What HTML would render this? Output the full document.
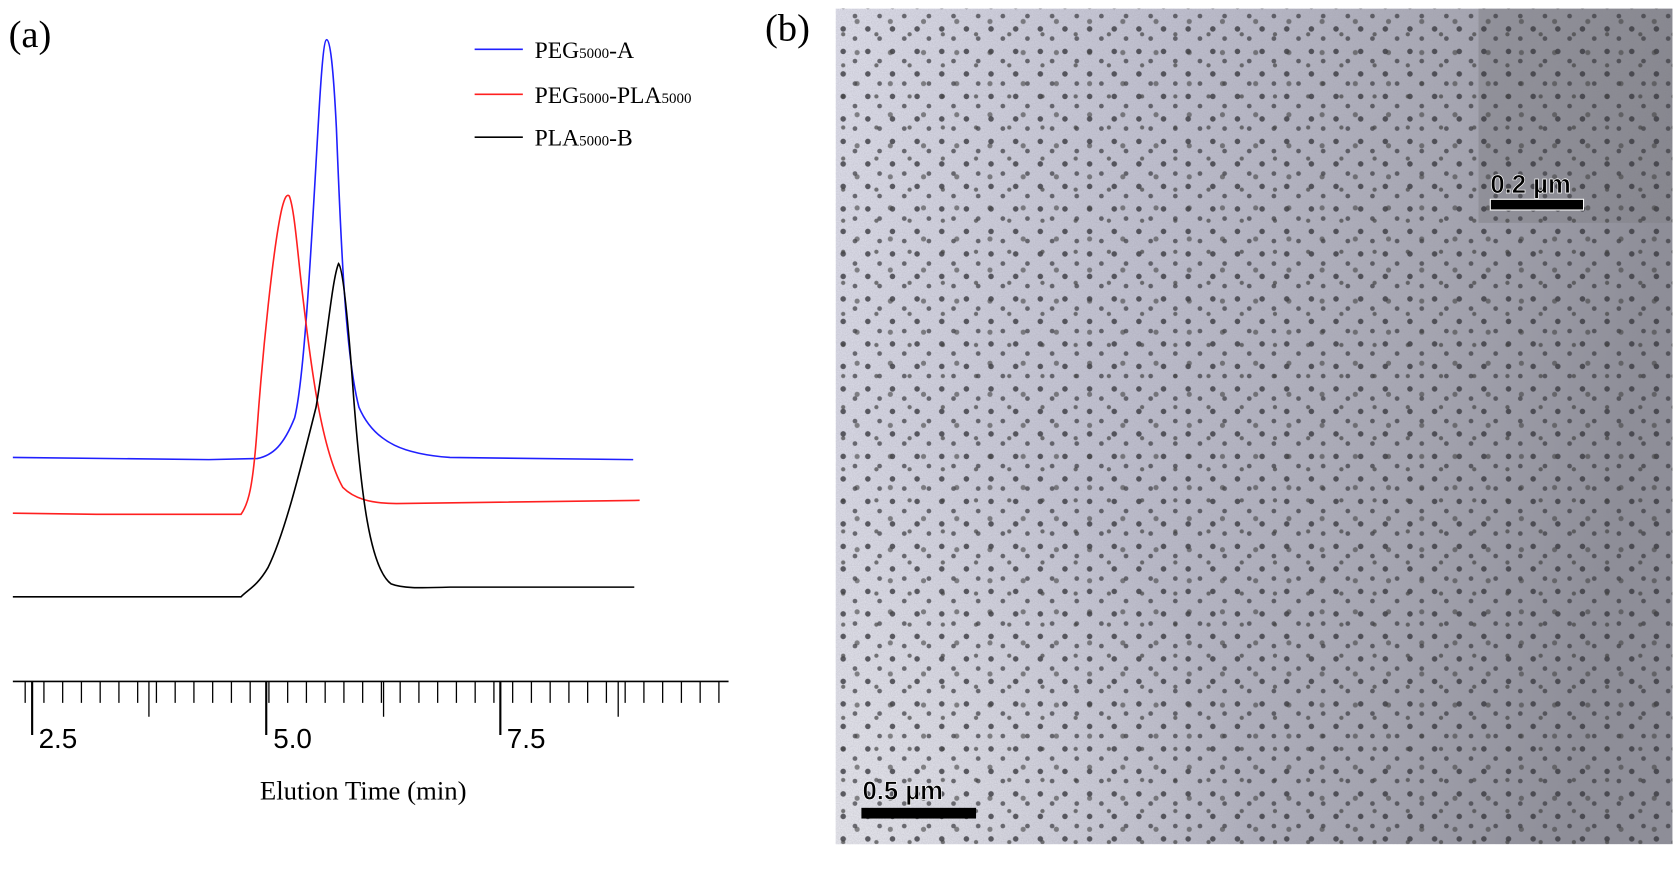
<!DOCTYPE html>
<html><head><meta charset="utf-8"><style>
html,body{margin:0;padding:0;background:#fff;overflow:hidden;}
svg text{font-family:"Liberation Serif",serif;}
</style></head><body>
<svg width="1680" height="872" xmlns="http://www.w3.org/2000/svg">
<defs>
<linearGradient id="bg" x1="0" y1="0" x2="1" y2="0.15">
<stop offset="0" stop-color="#e6e6f2"/>
<stop offset="0.4" stop-color="#c4c4d4"/>
<stop offset="0.75" stop-color="#a8a8b4"/>
<stop offset="1" stop-color="#8c8c96"/>
</linearGradient>
<radialGradient id="ll" cx="0" cy="1" r="0.5">
<stop offset="0" stop-color="#f4f4f8" stop-opacity="0.8"/>
<stop offset="1" stop-color="#f4f4f8" stop-opacity="0"/>
</radialGradient>
<pattern id="d1" width="23" height="21" patternUnits="userSpaceOnUse">
<circle cx="5" cy="6" r="2.6" fill="#3a3a40" opacity="0.8"/>
<circle cx="16" cy="15" r="2.2" fill="#3a3a40" opacity="0.7"/>
</pattern>
<pattern id="d2" width="31" height="29" patternUnits="userSpaceOnUse">
<circle cx="12" cy="3" r="2" fill="#444" opacity="0.7"/>
<circle cx="25" cy="20" r="2.4" fill="#444" opacity="0.6"/>
</pattern>
<filter id="nz" x="0" y="0" width="1" height="1"><feTurbulence type="fractalNoise" baseFrequency="0.9" numOctaves="1" seed="3"/><feColorMatrix values="0 0 0 0 0.3 0 0 0 0 0.3 0 0 0 0 0.35 0 0 0 0.4 0"/></filter>
<clipPath id="cp"><rect x="780" y="8" width="781" height="780"/></clipPath>
</defs>
<g transform="scale(1.0714)">
<text x="8" y="44" font-size="36">(a)</text>
<text x="714" y="38" font-size="36">(b)</text>
<g font-size="22">
<line x1="443" y1="46" x2="488" y2="46" stroke="#2020ff" stroke-width="1.5"/>
<text x="499" y="54">PEG<tspan font-size="14">5000</tspan>-A</text>
<line x1="443" y1="88" x2="488" y2="88" stroke="#ff2020" stroke-width="1.5"/>
<text x="499" y="96">PEG<tspan font-size="14">5000</tspan>-PLA<tspan font-size="14">5000</tspan></text>
<line x1="443" y1="128" x2="488" y2="128" stroke="#000" stroke-width="1.5"/>
<text x="499" y="136">PLA<tspan font-size="14">5000</tspan>-B</text>
</g>
<g fill="none" stroke-width="1.5">
<path stroke="#2020ff" d="M12,427 L195,429 L240,428 C255,425 265,415 275,390 C285,350 292,200 298,100 C301,50 303,37 305,37 C308,37 311,60 314,120 C318,220 322,330 335,380 C350,415 380,424 420,427 L591,429"/>
<path stroke="#ff2020" d="M12,479 L90,480 L225,480 C232,470 236,455 240,400 C245,330 255,230 263,195 C266,183 268,181 270,183 C275,195 278,240 283,280 C290,340 300,420 320,455 C330,465 345,470 370,470 L597,467"/>
<path stroke="#000" d="M12,557 L225,557 C232,550 240,547 250,530 C265,500 280,440 295,380 C305,320 310,260 316,246 C320,250 325,300 330,370 C337,460 345,530 365,545 C375,549 390,549 420,548 L592,548"/>
</g>
<line x1="12" y1="636" x2="680" y2="636" stroke="#000" stroke-width="1.5"/>
<g stroke="#000" stroke-width="1.2">
<path d="M23.5,636v20 M41,636v20 M58.5,636v20 M76,636v20 M93.5,636v20 M111,636v20 M128.5,636v20 M146,636v20 M163.5,636v20 M181,636v20 M198.5,636v20 M216,636v20 M233.5,636v20 M251,636v20 M268.5,636v20 M286,636v20 M303.5,636v20 M321,636v20 M338.5,636v20 M356,636v20 M373.5,636v20 M391,636v20 M408.5,636v20 M426,636v20 M443.5,636v20 M461,636v20 M478.5,636v20 M496,636v20 M513.5,636v20 M531,636v20 M548.5,636v20 M566,636v20 M583.5,636v20 M601,636v20 M618.5,636v20 M636,636v20 M653.5,636v20 M671,636v20"/>
<path d="M139,636v33 M358,636v33 M577,636v33" />
<path stroke-width="2" d="M30,636v50 M248.5,636v50 M467,636v50"/>
</g>
<g font-size="26">
<text x="36" y="698" style="font-family:'Liberation Sans',sans-serif">2.5</text>
<text x="255" y="698" style="font-family:'Liberation Sans',sans-serif">5.0</text>
<text x="473" y="698" style="font-family:'Liberation Sans',sans-serif">7.5</text>
</g>
<text x="339" y="746" font-size="25" text-anchor="middle">Elution Time (min)</text>
<g clip-path="url(#cp)">
<rect x="780" y="8" width="781" height="780" fill="url(#bg)"/>
<rect x="780" y="8" width="781" height="780" fill="url(#ll)"/>
<rect x="1380" y="8" width="181" height="200" fill="#7d7d84" opacity="0.55"/>
<rect x="780" y="8" width="781" height="780" filter="url(#nz)"/>
<rect x="780" y="8" width="781" height="780" fill="url(#d1)"/>
<rect x="780" y="8" width="781" height="780" fill="url(#d2)"/>
</g>
<rect x="804" y="754" width="107" height="10" fill="#000"/>
<text x="805" y="746" font-size="24" font-weight="bold" style="font-family:'Liberation Sans',sans-serif" stroke="#fff" stroke-width="0.6">0.5 µm</text>
<rect x="1391" y="186" width="87" height="10" fill="#000" stroke="#fff" stroke-width="1"/>
<text x="1391" y="180" font-size="24" font-weight="bold" style="font-family:'Liberation Sans',sans-serif" stroke="#fff" stroke-width="0.6">0.2 µm</text>
</g>
</svg>
</body></html>
